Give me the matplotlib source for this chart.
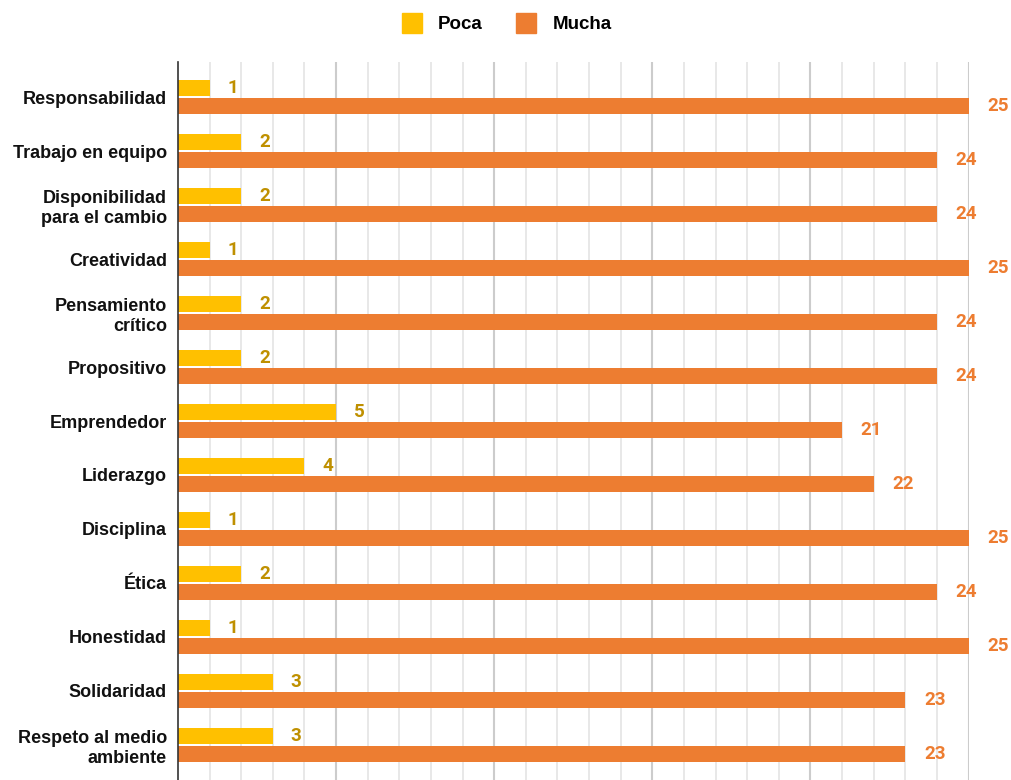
import matplotlib.pyplot as plt
from matplotlib.patches import Patch
import numpy as np

plt.rcParams['font.family'] = ['Liberation Sans', 'DejaVu Sans']

categories = ["Responsabilidad", "Trabajo en equipo", "Disponibilidad\npara el cambio",
              "Creatividad", "Pensamiento\ncrítico", "Propositivo", "Emprendedor",
              "Liderazgo", "Disciplina", "Ética", "Honestidad", "Solidaridad",
              "Respeto al medio\nambiente"]
poca = [1, 2, 2, 1, 2, 2, 5, 4, 1, 2, 1, 3, 3]
mucha = [25, 24, 24, 25, 24, 24, 21, 22, 25, 24, 25, 23, 23]

poca_color = "#FFC000"
mucha_color = "#ED7D31"
poca_text = "#BF9000"

fig = plt.figure(figsize=(10.11, 7.8), dpi=100)
ax = fig.add_axes([0.176, 0.0, 0.782, 0.9205])

y = np.arange(len(categories))
h = 0.3
ax.barh(y - h / 2 - 0.02, poca, height=h, color=poca_color, zorder=3)
ax.barh(y + h / 2 + 0.02, mucha, height=h, color=mucha_color, zorder=3)

for yi, v in zip(y, poca):
    ax.annotate(str(v), (v, yi - h / 2 - 0.02), xytext=(13, 0), textcoords="offset points",
                ha="left", va="center", color=poca_text, fontsize=13.5, fontweight="bold",
                family="Roboto")
for yi, v in zip(y, mucha):
    ax.annotate(str(v), (v, yi + h / 2 + 0.02), xytext=(13.5, 0), textcoords="offset points",
                ha="left", va="center", color=mucha_color, fontsize=13.5, fontweight="bold",
                family="Roboto", annotation_clip=False)

ax.set_xlim(0, 25)
ax.set_ylim(len(categories) - 0.35, -0.65)
ax.set_yticks(y)
ax.set_yticklabels(categories, fontsize=13, fontweight="bold", color="#111111",
                   linespacing=1.2)
ax.tick_params(axis="y", length=0, pad=8)
ax.set_xticks([])

for xv in range(1, 26):
    col = "#cccccc" if xv % 5 == 0 else "#e4e4e4"
    lw = 1.5 if xv % 5 == 0 else 1.2
    ax.axvline(xv, color=col, lw=lw, zorder=1)

for s in ["top", "right", "bottom"]:
    ax.spines[s].set_visible(False)
ax.spines["left"].set_color("#333333")
ax.spines["left"].set_linewidth(1.2)
ax.spines["left"].set_zorder(4)

handles = [Patch(color=poca_color, label="Poca"), Patch(color=mucha_color, label="Mucha")]
fig.legend(handles=handles, loc="upper center", bbox_to_anchor=(0.501, 1.005), ncol=2,
           frameon=False, handlelength=1.1, handleheight=1.3, columnspacing=1.75,
           handletextpad=0.85, prop={"weight": "bold", "size": 13.5})

fig.savefig("out.png", dpi=100)
